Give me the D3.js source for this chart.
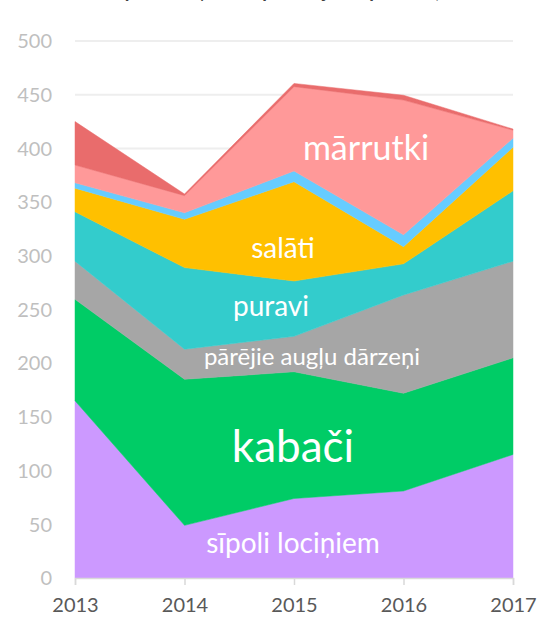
<!DOCTYPE html>
<html>
<head>
<meta charset="utf-8">
<script src="https://cdn.jsdelivr.net/npm/d3@7"></script>
<style>
  body { margin: 0; background: #fff; overflow: hidden; }
  svg { display: block; font-family: Lato, "Open Sans", sans-serif; }
</style>
</head>
<body>
<div id="chart"></div>
<script>
var years = [2013, 2014, 2015, 2016, 2017];
var seriesNames = ["sīpoli lociņiem", "kabači", "pārējie augļu dārzeņi", "puravi", "salāti", "ķiploki", "mārrutki", "citi"];
var sipoli   = [165, 49, 74, 81, 115];
var kabaci   = [94.5, 136, 118, 91, 90];
var parejie  = [35.5, 28, 33, 91.5, 90];
var puravi   = [46, 76, 51.5, 29, 65.5];
var salati   = [22, 45, 92.5, 16, 40.5];
var kiploki  = [5, 6, 10, 11, 8.5];
var marrutki = [16.5, 16, 78.5, 125.5, 7.5];
var citi     = [40.5, 1.5, 3, 4.5, 1];
var yTicks = [0, 50, 100, 150, 200, 250, 300, 350, 400, 450, 500];

var allValues = [sipoli, kabaci, parejie, puravi, salati, kiploki, marrutki, citi];
var colors = ["#cc99ff", "#00cc66", "#a6a6a6", "#33cccc", "#ffc000", "#66ccff", "#ff9999", "#e96c6c"];

// rows for d3.stack
var rows = years.map(function(y, i){
  var r = { year: y };
  seriesNames.forEach(function(n, k){ r[n] = allValues[k][i]; });
  return r;
});

var width = 540, height = 617;
var svg = d3.select("#chart").append("svg")
  .attr("width", width)
  .attr("height", height);

var x = d3.scaleLinear().domain([2013, 2017]).range([75, 513]);
var y = d3.scaleLinear().domain([0, 500]).range([578, 41]);

// title, cut off by the top edge like in the original
svg.append("text")
  .attr("x", 285).attr("y", -2)
  .attr("text-anchor", "middle")
  .style("font-size", "19px")
  .style("font-weight", "bold")
  .style("fill", "#404040")
  .text("Lapu dārzeņu un sīpolu sējumu platības, ha");

// gridlines
svg.append("g")
  .selectAll("line")
  .data(yTicks.filter(function(d){ return d > 0; }))
  .enter().append("line")
    .attr("x1", x(2013)).attr("x2", x(2017))
    .attr("y1", function(d){ return y(d); })
    .attr("y2", function(d){ return y(d); })
    .style("stroke", "#eeeeee")
    .style("stroke-width", 2);

var stack = d3.stack().keys(seriesNames);
var layers = stack(rows);

var area = d3.area()
  .x(function(d){ return x(d.data.year); })
  .y0(function(d){ return y(d[0]); })
  .y1(function(d){ return y(d[1]); });

svg.append("g")
  .selectAll("path")
  .data(layers)
  .enter().append("path")
    .attr("d", area)
    .style("fill", function(d, i){ return colors[i]; })
    .style("stroke", function(d, i){ return colors[i]; })
    .style("stroke-width", 0.5);

// y axis labels
svg.append("g")
  .selectAll("text")
  .data(yTicks)
  .enter().append("text")
    .attr("x", 52)
    .attr("y", function(d){ return y(d); })
    .attr("dy", "0.36em")
    .attr("text-anchor", "end")
    .style("font-size", "20px")
    .style("fill", "#bfbfbf")
    .text(function(d){ return d; });

// x axis
var xAxis = d3.axisBottom(x)
  .tickValues(years)
  .tickFormat(d3.format("d"))
  .tickSize(7)
  .tickPadding(13);

var gx = svg.append("g")
  .attr("transform", "translate(0," + y(0) + ")")
  .call(xAxis);
gx.select(".domain").style("stroke", "#d9d9d9").style("stroke-width", 1.5);
gx.selectAll(".tick line").style("stroke", "#d9d9d9").style("stroke-width", 1.5);
gx.selectAll(".tick text")
  .style("font-size", "20px")
  .style("font-family", "Lato, 'Open Sans', sans-serif")
  .style("fill", "#595959");

// series labels inside the areas
var labels = [
  { name: "mārrutki", x: 366, y: 160, size: 34 },
  { name: "salāti", x: 283, y: 258, size: 28 },
  { name: "puravi", x: 271, y: 316, size: 28 },
  { name: "pārējie augļu dārzeņi", x: 312, y: 365, size: 24 },
  { name: "kabači", x: 293, y: 462, size: 44 },
  { name: "sīpoli lociņiem", x: 293, y: 553, size: 28 }
];

svg.append("g")
  .selectAll("text")
  .data(labels)
  .enter().append("text")
    .attr("x", function(d){ return d.x; })
    .attr("y", function(d){ return d.y; })
    .attr("text-anchor", "middle")
    .style("font-size", function(d){ return d.size + "px"; })
    .style("fill", "#ffffff")
    .text(function(d){ return d.name; });
</script>
</body>
</html>
